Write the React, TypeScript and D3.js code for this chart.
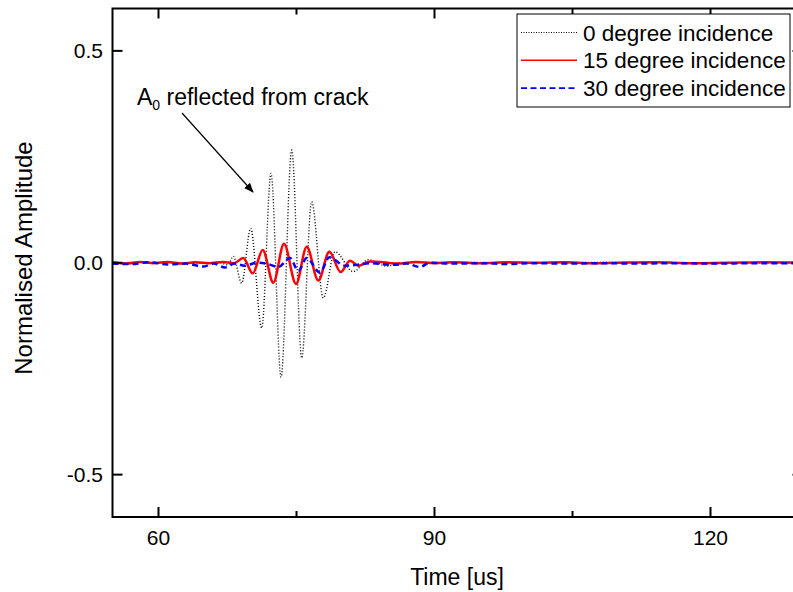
import React from "react";
import * as d3 from "d3";

// ---- data ----
const xTicksMajor = [60, 90, 120];
const xTicksMinor = [75, 105];
const yTicksMajor = [-0.5, 0, 0.5];
const yTickLabels = ["-0.5", "0.0", "0.5"];

const seriesNames = ["0 degree incidence", "15 degree incidence", "30 degree incidence"];

// 0 degree (black dotted)
const t0 = [55, 60, 64, 66.7, 67.55, 68.13, 69.04, 70.02, 71.22, 72.23, 73.32, 74.48, 75.57, 76.65, 77.91, 79.18, 81.17, 82.8, 84.84, 86.25, 90, 100, 110, 120, 130];
const v0 = [0, 0.001, -0.001, 0, -0.005, 0.015, -0.048, 0.081, -0.154, 0.211, -0.27, 0.266, -0.225, 0.144, -0.083, 0.026, -0.021, 0.007, -0.008, 0, 0.001, 0, 0.001, 0, 0];

// 15 degree (red solid)
const t15 = [55, 56.5, 58, 59.5, 61, 62.5, 64, 65.5, 67, 68.2, 69.22, 70.24, 71.33, 72.48, 73.64, 74.95, 76.11, 77.37, 78.57, 79.8, 80.82, 81.72, 83, 84.5, 86, 88, 90, 92, 95, 98, 101, 104, 107, 110, 114, 118, 122, 126, 130];
const v15 = [0.001, -0.002, 0.002, -0.001, 0.002, -0.002, 0.001, -0.001, 0.002, -0.001, 0.011, -0.025, 0.03, -0.047, 0.045, -0.05, 0.038, -0.042, 0.026, -0.022, 0.005, -0.007, 0.003, 0.001, -0.002, 0.002, -0.001, 0.001, -0.001, 0.001, 0, 0.001, -0.001, 0, 0.001, -0.001, 0, 0.001, 0];

// 30 degree (blue dashed)
const t30 = [55, 57, 59, 61, 63, 64.84, 66, 67.23, 68.3, 69.4, 70.67, 71.9, 73.02, 74.29, 75.2, 76.11, 77.55, 78.57, 80.27, 81.54, 83, 85.5, 87, 88.4, 89.5, 92, 95, 98, 101, 104, 108, 112, 116, 120, 125, 130];
const v30 = [-0.002, -0.003, 0.001, -0.004, -0.002, -0.009, -0.002, -0.011, -0.002, -0.007, 0, -0.003, -0.01, 0.011, -0.019, 0.011, -0.023, 0.013, -0.007, -0.005, -0.001, -0.005, -0.002, -0.01, 0, -0.002, -0.001, -0.003, -0.001, -0.002, -0.001, -0.002, -0.001, -0.002, -0.001, -0.001];

const W = 793;
const H = 592;
const FONT = "'Liberation Sans', Arial, Helvetica, sans-serif";

export default function App() {
  const left = 112.5, right = 802.5, top = 8.5, bottom = 517;
  const x = d3.scaleLinear().domain([55, 130]).range([left, right]);
  const y = d3.scaleLinear().domain([-0.6, 0.6]).range([bottom, top]);

  const mk = (ts: number[], vs: number[]) =>
    d3
      .line<number>()
      .x((_, i) => x(ts[i]))
      .y((v) => y(v))
      .curve(d3.curveMonotoneX)(vs) || "";

  const p0 = mk(t0, v0);
  const p15 = mk(t15, v15);
  const p30 = mk(t30, v30);

  const tickMaj = 10;
  const tickMin = 6;

  return (
    <svg
      width={W}
      height={H}
      style={{ position: "absolute", left: 0, top: 0, background: "#fff" }}
      fontFamily={FONT}
    >
      <defs>
        <clipPath id="plot">
          <rect x={left} y={top} width={right - left} height={bottom - top} />
        </clipPath>
        <marker id="arrow" viewBox="0 0 10 10" refX="9" refY="5" markerWidth="10" markerHeight="10" orient="auto" markerUnits="userSpaceOnUse">
          <path d="M0,1 L10,5 L0,9 z" fill="#000" />
        </marker>
      </defs>
      <rect x={0} y={0} width={W} height={H} fill="#fff" />

      <g clipPath="url(#plot)">
        <path d={p0} fill="none" stroke="#000" strokeWidth={1.4} strokeDasharray="1,2" />
        <path d={p15} fill="none" stroke="#ff0000" strokeWidth={2.5} />
        <path d={p30} fill="none" stroke="#0000ff" strokeWidth={2.5} strokeDasharray="6,4" />
      </g>

      {/* frame */}
      <rect x={left} y={top} width={right - left} height={bottom - top} fill="none" stroke="#000" strokeWidth={2} />

      {/* x ticks */}
      {xTicksMajor.map((t) => (
        <g key={"xm" + t}>
          <line x1={x(t)} x2={x(t)} y1={bottom} y2={bottom - tickMaj} stroke="#000" strokeWidth={2} />
          <line x1={x(t)} x2={x(t)} y1={top} y2={top + tickMaj} stroke="#000" strokeWidth={2} />
          <text x={x(t)} y={545} textAnchor="middle" fontSize={21}>
            {t}
          </text>
        </g>
      ))}
      {xTicksMinor.map((t) => (
        <g key={"xn" + t}>
          <line x1={x(t)} x2={x(t)} y1={bottom} y2={bottom - tickMin} stroke="#000" strokeWidth={2} />
          <line x1={x(t)} x2={x(t)} y1={top} y2={top + tickMin} stroke="#000" strokeWidth={2} />
        </g>
      ))}

      {/* y ticks */}
      {yTicksMajor.map((v, i) => (
        <g key={"ym" + v}>
          <line x1={left} x2={left + tickMaj} y1={y(v)} y2={y(v)} stroke="#000" strokeWidth={2} />
          <line x1={right} x2={right - tickMaj} y1={y(v)} y2={y(v)} stroke="#000" strokeWidth={2} />
          <text x={103} y={y(v) + 7.5} textAnchor="end" fontSize={21}>
            {yTickLabels[i]}
          </text>
        </g>
      ))}

      {/* axis titles */}
      <text x={457} y={585} textAnchor="middle" fontSize={23}>
        Time [us]
      </text>
      <text transform={`translate(32, 258) rotate(-90)`} textAnchor="middle" fontSize={24}>
        Normalised Amplitude
      </text>

      {/* annotation */}
      <text x={137} y={105} fontSize={23}>
        A<tspan fontSize={14} dy={5}>0</tspan>
        <tspan dy={-5}> reflected from crack</tspan>
      </text>
      <line x1={182} y1={113} x2={253} y2={192} stroke="#000" strokeWidth={1.2} markerEnd="url(#arrow)" />

      {/* legend */}
      <rect x={517} y={14} width={273} height={93} fill="#fff" stroke="#000" strokeWidth={1} />
      {[0, 1, 2].map((i) => {
        const yy = 32.5 + i * 27.8;
        return (
          <g key={"lg" + i}>
            <line
              x1={521}
              x2={577}
              y1={yy}
              y2={yy}
              stroke={i === 0 ? "#000" : i === 1 ? "#ff0000" : "#0000ff"}
              strokeWidth={i === 0 ? 1 : 1.6}
              strokeDasharray={i === 0 ? "1,1.5" : i === 2 ? "6,3.5" : undefined}
            />
            <text x={583} y={yy + 8} fontSize={22.5}>
              {seriesNames[i]}
            </text>
          </g>
        );
      })}
    </svg>
  );
}
